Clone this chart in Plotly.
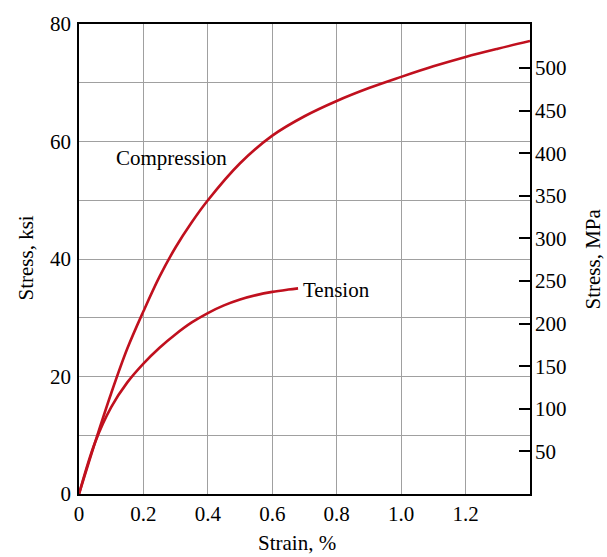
import plotly.graph_objects as go

# Data (strain in %, stress in ksi)
comp_strain = [0, 0.05, 0.1, 0.15, 0.2, 0.25, 0.3, 0.35, 0.4, 0.5, 0.6, 0.7, 0.8,
               0.9, 1.0, 1.1, 1.2, 1.3, 1.4]
comp_stress = [0, 8.8, 17.15, 24.75, 31.1, 37.0, 42.0, 46.25, 50.0, 56.3, 61.0, 64.3, 66.9,
               69.1, 71.0, 72.8, 74.4, 75.8, 77.1]

tens_strain = [0, 0.05, 0.1, 0.15, 0.2, 0.25, 0.3, 0.35, 0.4, 0.45, 0.5, 0.55, 0.6, 0.65, 0.68]
tens_stress = [0, 8.8, 14.8, 19.0, 22.2, 24.9, 27.2, 29.2, 30.8, 32.1, 33.1, 33.85, 34.4, 34.8, 35.0]

x_ticks = [0, 0.2, 0.4, 0.6, 0.8, 1.0, 1.2]
x_tick_text = ["0", "0.2", "0.4", "0.6", "0.8", "1.0", "1.2"]
y_ticks = [0, 20, 40, 60, 80]
mpa_ticks = [50, 100, 150, 200, 250, 300, 350, 400, 450, 500]

KSI_TO_MPA = 6.894757
FONT = "Liberation Serif"
FS = 21
RED = "#c0101e"
GRID = "#a0a0a0"

fig = go.Figure()
fig.add_trace(go.Scatter(x=comp_strain, y=comp_stress, mode="lines",
                         line=dict(color=RED, width=2.6, shape="spline", smoothing=1.0),
                         showlegend=False, hoverinfo="skip"))
fig.add_trace(go.Scatter(x=tens_strain, y=tens_stress, mode="lines",
                         line=dict(color=RED, width=2.6, shape="spline", smoothing=1.0),
                         showlegend=False, hoverinfo="skip"))
# invisible trace to attach the MPa axis
fig.add_trace(go.Scatter(x=comp_strain, y=[v * KSI_TO_MPA for v in comp_stress],
                         yaxis="y2", mode="lines", line=dict(width=0), opacity=0,
                         showlegend=False, hoverinfo="skip"))

L, R, T, B = 79, 77, 21, 63
W, H = 607, 557
fig.update_layout(
    width=W, height=H,
    margin=dict(l=L, r=R, t=T, b=B),
    paper_bgcolor="white", plot_bgcolor="white",
    font=dict(family=FONT, size=FS, color="black"),
    xaxis=dict(range=[0, 1.4], tickvals=x_ticks, ticktext=x_tick_text,
               showgrid=True, gridcolor=GRID, gridwidth=1,
               showline=True, linecolor="black", linewidth=1.5, mirror=True,
               ticks="", zeroline=False, ticklabelstandoff=0),
    yaxis=dict(range=[0, 80], tickvals=y_ticks,
               showgrid=True, gridcolor=GRID, gridwidth=1,
               minor=dict(dtick=10, showgrid=True, gridcolor=GRID, gridwidth=1),
               showline=True, linecolor="black", linewidth=1.5, mirror=True,
               ticks="", zeroline=False, ticklabelstandoff=2),
    yaxis2=dict(overlaying="y", side="right", range=[0, 80 * KSI_TO_MPA],
                tickvals=mpa_ticks, ticks="inside", ticklen=11, tickwidth=1.5,
                tickcolor="black", showgrid=False, zeroline=False,
                showline=False, ticklabelstandoff=4),
)

pw, ph = W - L - R, H - T - B
def px(xp):
    return (xp - L) / pw
def py(yp):
    return (H - B - yp) / ph

fig.add_annotation(text="Compression", x=0.286, y=57.2, xref="x", yref="y",
                   xanchor="center", yanchor="middle",
                   showarrow=False, font=dict(family=FONT, size=FS))
fig.add_annotation(text="Tension", x=0.69, y=34.8, xref="x", yref="y",
                   xanchor="left", yanchor="middle",
                   showarrow=False, font=dict(family=FONT, size=FS))
fig.add_annotation(text="Strain, %", x=px(297), y=py(543), xref="paper", yref="paper",
                   xanchor="center", yanchor="middle",
                   showarrow=False, font=dict(family=FONT, size=FS))
fig.add_annotation(text="Stress, ksi", x=px(26), y=py(257), xref="paper", yref="paper",
                   xanchor="center", yanchor="middle",
                   textangle=-90, showarrow=False, font=dict(family=FONT, size=FS))
fig.add_annotation(text="Stress, MPa", x=px(593), y=py(258), xref="paper", yref="paper",
                   xanchor="center", yanchor="middle",
                   textangle=-90, showarrow=False, font=dict(family=FONT, size=FS))

fig.write_html("out.html")
